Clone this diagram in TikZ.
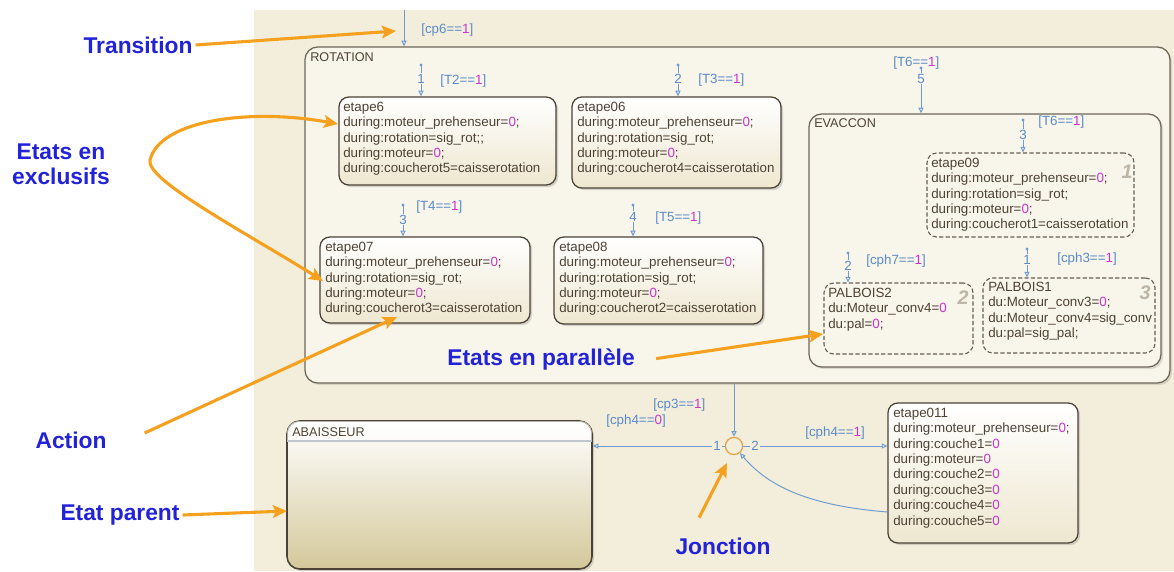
\documentclass[tikz,border=0pt]{standalone}
\usepackage{fontspec}
\setmainfont{Liberation Sans}
\usetikzlibrary{fit,shadows,arrows.meta}
\definecolor{bgbeige}{HTML}{F3EEDB}
\definecolor{parfill}{HTML}{F8F5EA}
\definecolor{stbot}{HTML}{EEE7D0}
\definecolor{abbot}{HTML}{D4C89A}
\definecolor{stborder}{HTML}{4A4236}
\definecolor{parborder}{HTML}{6E675A}
\definecolor{sttext}{HTML}{4E4234}
\definecolor{mag}{HTML}{CC33CC}
\definecolor{trblue}{HTML}{6E9BD0}
\definecolor{trlabel}{HTML}{5B8BC9}
\definecolor{graynum}{HTML}{BDB5A6}
\definecolor{orangeA}{HTML}{F5A01E}
\definecolor{annoblue}{HTML}{2222D8}
\definecolor{juncol}{HTML}{E2A54A}
\definecolor{hdrline}{HTML}{BFC6CC}
\newcommand{\mg}[1]{\textcolor{mag}{#1}}
\newcommand{\stfont}{\fontsize{9.5}{11}\selectfont}
\newcommand{\titlefont}{\fontsize{9}{11}\selectfont}
\newcommand{\annofont}{\fontsize{16.2}{17.5}\selectfont\bfseries}
\newcommand{\gnumfont}{\fontsize{14}{14}\selectfont\bfseries\itshape}
\tikzset{
  stbox/.style={draw=stborder, line width=0.9pt, rounded corners=7pt, top color=white, bottom color=stbot, inner sep=0pt,
    drop shadow={opacity=0.3, shadow xshift=1.5pt, shadow yshift=-1.5pt}},
  abbox/.style={draw=stborder, line width=1.1pt, rounded corners=9pt, top color=white, bottom color=abbot, inner sep=0pt,
    drop shadow={opacity=0.3, shadow xshift=1.5pt, shadow yshift=-1.5pt}},
  dbox/.style={draw=stborder!85, dash pattern=on 3pt off 1.6pt, line width=0.8pt, rounded corners=7pt, inner sep=0pt},
  parstate/.style={draw=parborder, line width=0.9pt, rounded corners=9pt, fill=parfill, inner sep=0pt,
    drop shadow={opacity=0.25, shadow xshift=1.5pt, shadow yshift=-1.5pt}},
  sttxt/.style={anchor=north west, inner sep=0pt, align=left, font=\stfont, text=sttext},
  sttitle/.style={anchor=west, inner sep=0pt, font=\titlefont, text=sttext},
  trline/.style={draw=trblue, line width=0.7pt, -{Triangle[open, length=4pt, width=3.6pt]}},
  trlab/.style={anchor=west, inner sep=0pt, font=\stfont, text=trlabel},
  ordnum/.style={inner sep=0.6pt, font=\stfont, text=trlabel, fill=parfill},
  gnum/.style={inner sep=0pt, font=\gnumfont, text=graynum},
  anno/.style={font=\annofont, text=annoblue, inner sep=0pt, align=center},
  oarrow/.style={draw=orangeA, line width=2.2pt, -{Stealth[length=10pt, width=9pt, inset=2pt]}},
  junc/.style={circle, draw=juncol, line width=0.9pt, minimum size=0.43cm, inner sep=0pt}
}
\begin{document}
\begin{tikzpicture}[x=0.025cm,y=-0.025cm]
\useasboundingbox (0,0) rectangle (1174,571);
\fill[white] (0,0) rectangle (1174,571);
\fill[bgbeige] (254,10) rectangle (1174,571);

% ---------- ROTATION ----------
\node[parstate, fit={(305,47) (1170,383)}] (rot) {};
\node[sttitle] (rotlab) at (310,57) {ROTATION};

\node[stbox, fit={(339,97) (556,185)}] (e6) {};
\node[sttxt] (e6t) at (343,101.5) {etape6\\during:moteur\_prehenseur=\mg{0};\\during:rotation=sig\_rot;;\\during:moteur=\mg{0};\\during:coucherot5=caisserotation};

\node[stbox, fit={(572,97) (781,188)}] (e06) {};
\node[sttxt] (e06t) at (577,101.5) {etape06\\during:moteur\_prehenseur=\mg{0};\\during:rotation=sig\_rot;\\during:moteur=\mg{0};\\during:coucherot4=caisserotation};

\node[stbox, fit={(320,237) (530,323)}] (e07) {};
\node[sttxt] (e07t) at (325,241.5) {etape07\\during:moteur\_prehenseur=\mg{0};\\during:rotation=sig\_rot;\\during:moteur=\mg{0};\\during:coucherot3=caisserotation};

\node[stbox, fit={(554,237) (763,324)}] (e08) {};
\node[sttxt] (e08t) at (559,241.5) {etape08\\during:moteur\_prehenseur=\mg{0};\\during:rotation=sig\_rot;\\during:moteur=\mg{0};\\during:coucherot2=caisserotation};

% ---------- EVACCON ----------
\node[parstate, fit={(809,114) (1161,367)}] (evac) {};
\node[sttitle] (evaclab) at (814,123) {EVACCON};

\node[dbox, fit={(927,153) (1134,237)}] (e09) {};
\node[sttxt] (e09t) at (931,157.5) {etape09\\during:moteur\_prehenseur=\mg{0};\\during:rotation=sig\_rot;\\during:moteur=\mg{0};\\during:coucherot1=caisserotation};
\node[gnum] (g1) at (1127,172) {1};

\node[dbox, fit={(824,283) (973,354)}] (pb2) {};
\node[sttxt] (pb2t) at (828,287.5) {PALBOIS2\\du:Moteur\_conv4=\mg{0}\\du:pal=\mg{0};};
\node[gnum] (g2) at (963,298) {2};

\node[dbox, fit={(983,278) (1155,353)}] (pb1) {};
\node[sttxt] (pb1t) at (988,281.5) {PALBOIS1\\du:Moteur\_conv3=\mg{0};\\du:Moteur\_conv4=sig\_conv\\du:pal=sig\_pal;};
\node[gnum] (g3) at (1145,293) {3};

% ---------- ABAISSEUR ----------
\node[abbox, fit={(287,421) (592,569)}] (ab) {};
\fill[white, opacity=0.6, rounded corners=8pt] ([xshift=0.6pt,yshift=-0.6pt]ab.north west) -- ([xshift=-0.6pt,yshift=-0.6pt]ab.north east) [sharp corners] -- ([xshift=-0.6pt]ab.east |- 0,441) -- ([xshift=0.6pt]ab.west |- 0,441) [rounded corners=8pt] -- cycle;
\draw[hdrline, line width=0.8pt] ([xshift=0.6pt]ab.west |- 0,441) -- ([xshift=-0.6pt]ab.east |- 0,441);
\node[sttitle] (ablab) at (292,432) {ABAISSEUR};

% ---------- etape011 ----------
\node[stbox, fit={(888,403) (1078,543)}] (e11) {};
\node[sttxt] (e11t) at (893,407.5) {etape011\\during:moteur\_prehenseur=\mg{0};\\during:couche1=\mg{0}\\during:moteur=\mg{0}\\during:couche2=\mg{0}\\during:couche3=\mg{0}\\during:couche4=\mg{0}\\during:couche5=\mg{0}};

% ---------- transitions ----------
\coordinate (t0) at (404,10);
\draw[trline] (t0) -- (t0 |- rot.north);
\node[trlab] (l0) at (421,30) {[cp6==\mg{1}]};

\coordinate (d1) at (421,65);
\fill[trblue] (d1) circle (1.1pt);
\draw[trline] (d1) -- (d1 |- e6.north) node[ordnum, pos=0.44] (n1) {1};
\node[trlab] (l1) at (440,81) {[T2==\mg{1}]};

\coordinate (d2) at (678,65);
\fill[trblue] (d2) circle (1.1pt);
\draw[trline] (d2) -- (d2 |- e06.north) node[ordnum, pos=0.44] (n2) {2};
\node[trlab] (l2) at (698,80) {[T3==\mg{1}]};

\coordinate (d3) at (403,205);
\fill[trblue] (d3) circle (1.1pt);
\draw[trline] (d3) -- (d3 |- e07.north) node[ordnum, pos=0.47] (n3) {3};
\node[trlab] (l3) at (416,207) {[T4==\mg{1}]};

\coordinate (d4) at (633,205);
\fill[trblue] (d4) circle (1.1pt);
\draw[trline] (d4) -- (d4 |- e08.north) node[ordnum, pos=0.38] (n4) {4};
\node[trlab] (l4) at (655,218) {[T5==\mg{1}]};

\coordinate (d5) at (921,68);
\fill[trblue] (d5) circle (1.1pt);
\draw[trline] (d5) -- (d5 |- evac.north) node[ordnum, pos=0.24] (n5) {5};
\node[trlab] (l5) at (893,63) {[T6==\mg{1}]};

\coordinate (d6) at (1023,120);
\fill[trblue] (d6) circle (1.1pt);
\draw[trline] (d6) -- (d6 |- e09.north) node[ordnum, pos=0.45] (n6) {3};
\node[trlab] (l6) at (1038,122) {[T6==\mg{1}]};

\coordinate (d7) at (848,253);
\fill[trblue] (d7) circle (1.1pt);
\draw[trline] (d7) -- (d7 |- pb2.north) node[ordnum, pos=0.43] (n7) {2};
\node[trlab] (l7) at (866,261) {[cph7==\mg{1}]};

\coordinate (d8) at (1027,249);
\fill[trblue] (d8) circle (1.1pt);
\draw[trline] (d8) -- (d8 |- pb1.north) node[ordnum, pos=0.38] (n8) {1};
\node[trlab] (l8) at (1057,259) {[cph3==\mg{1}]};

% ---------- junction ----------
\node[junc] (j) at (734,446) {};
\draw[trline] (j.north |- rot.south) -- (j.north);
\node[trlab] (lj0) at (653,405) {[cp3==\mg{1}]};
\draw[trline] (j.west) -- (j.west -| ab.east);
\node[trlab] (lj1) at (606,421) {[cph4==\mg{0}]};
\draw[trline] (j.east) -- (j.east -| e11.west);
\node[trlab] (lj2) at (805,433) {[cph4==\mg{1}]};
\node[ordnum, fill=bgbeige] (j1) at (717,446) {1};
\node[ordnum, fill=bgbeige] (j2) at (755,446) {2};
\draw[trline] (e11.west |- 0,512) .. controls (800,505) and (765,482) .. (j.-50);

% ---------- annotations ----------
\node[anno] (aT) at (138,45) {Transition};
\node[anno] (aE) at (61,164) {Etats en\\exclusifs};
\node[anno] (aA) at (71,440) {Action};
\node[anno] (aP) at (120,515) {Etat parent};
\node[anno] (aPar) at (541,360) {Etats en parallèle};
\node[anno] (aJ) at (723,546) {Jonction};

\coordinate (tipT) at (396,31);
\coordinate (tipE6) at (338,124);
\coordinate (tipE7) at (323,281);
\coordinate (tipA) at (397,317);
\coordinate (tipP) at (287,511);
\coordinate (tipPar) at (823,334);
\coordinate (tipJ) at (727,463);

\draw[oarrow] ([xshift=2pt]aT.east) -- (tipT);
\draw[oarrow, {Stealth[length=10pt, width=9pt, inset=2pt]}-{Stealth[length=10pt, width=9pt, inset=2pt]}]
  (tipE6) .. controls (250,108) and (160,120) .. (150,160) .. controls (145,180) and (250,235) .. (tipE7);
\draw[oarrow] ([xshift=27pt,yshift=5pt]aA.east) -- (tipA);
\draw[oarrow] ([xshift=2pt]aP.east) -- (tipP);
\draw[oarrow] ([xshift=15pt,yshift=1pt]aPar.east) -- (tipPar);
\draw[oarrow] ([xshift=-17pt,yshift=14pt]aJ.north) -- (tipJ);
\end{tikzpicture}
\end{document}
